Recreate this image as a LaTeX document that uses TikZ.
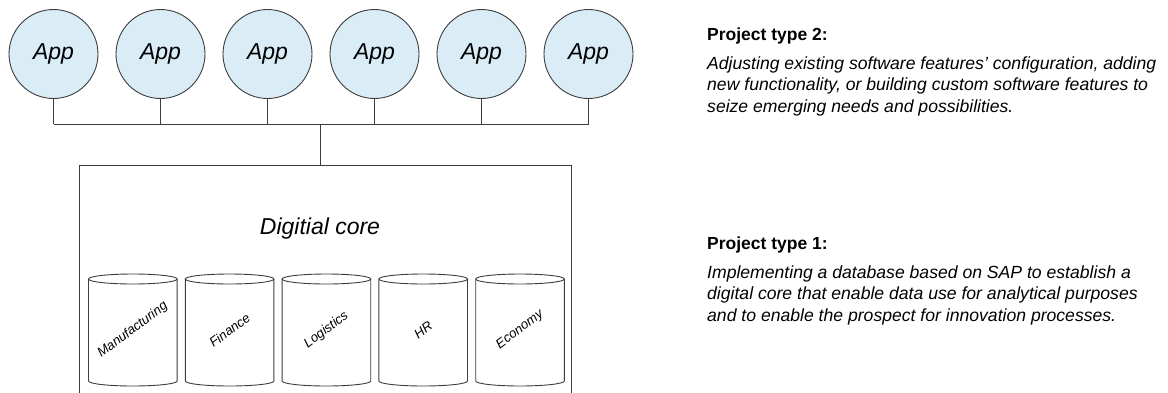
\documentclass[tikz,border=0pt]{standalone}
\usepackage{fontspec}
\setmainfont{Liberation Sans}
\usepackage{tikz}
\definecolor{appblue}{RGB}{218,237,247}
\definecolor{linegray}{RGB}{60,60,60}

\begin{document}
\begin{tikzpicture}[x=1pt, y=-1pt,
  app/.style={circle, draw=linegray, fill=appblue, line width=0.9pt, minimum size=89pt, inner sep=0pt, font=\fontsize{23}{27}\selectfont\itshape},
  wire/.style={draw=linegray, line width=0.9pt},
  dbtext/.style={rotate=37, inner sep=0pt, font=\fontsize{13.2}{15}\selectfont\itshape},
  ptitle/.style={anchor=base west, inner sep=0pt, font=\fontsize{17.5}{21}\selectfont\bfseries},
  ptext/.style={anchor=north west, inner sep=0pt, align=left, font=\fontsize{17.6}{21.3}\selectfont\itshape}]
\useasboundingbox (0,0) rectangle (1168,392);

% Apps
\foreach \i in {1,...,6} {
    \node[app] (app\i) at (-53.5+107*\i,54) {App};
}

% Bus to the core
\coordinate (bus) at (320.7,124);
\foreach \i in {1,...,6} {
    \draw[wire] (app\i.south) -- (app\i.south |- bus);
}
\draw[wire] (app1.south |- bus) -- (app6.south |- bus);

% Digital core
\node[draw=linegray, line width=0.9pt, minimum width=492pt, minimum height=230pt, inner sep=0pt, anchor=north west] (core) at (79,165) {};
\draw[wire] (bus) -- (bus |- core.north);
\node[font=\fontsize{23}{27}\selectfont\itshape] (corelabel) at (320,229) {Digitial core};

% Databases
\foreach \name [count=\i] in {Manufacturing,Finance,Logistics,HR,Economy} {
    \pgfmathsetmacro{\cx}{36+96.8*\i}
    \draw[wire] (\cx,279) ellipse [x radius=44.3pt, y radius=5pt];
    \draw[wire] (\cx-44.3,279) -- (\cx-44.3,381) arc[start angle=180, end angle=360, x radius=44.3pt, y radius=5pt] -- (\cx+44.3,279);
    \node[dbtext] (db\i) at (\cx,330) {\name};
}

% Project descriptions
\node[ptitle] (type2) at (707,40.5) {Project type 2:};
\node[ptext] (type2text) at (707,56.5) {Adjusting existing software features’ configuration, adding\\new functionality, or building custom software features to\\seize emerging needs and possibilities.};
\node[ptitle] (type1) at (707,249) {Project type 1:};
\node[ptext] (type1text) at (707,265.5) {Implementing a database based on SAP to establish a\\digital core that enable data use for analytical purposes\\and to enable the prospect for innovation processes.};
\end{tikzpicture}
\end{document}
